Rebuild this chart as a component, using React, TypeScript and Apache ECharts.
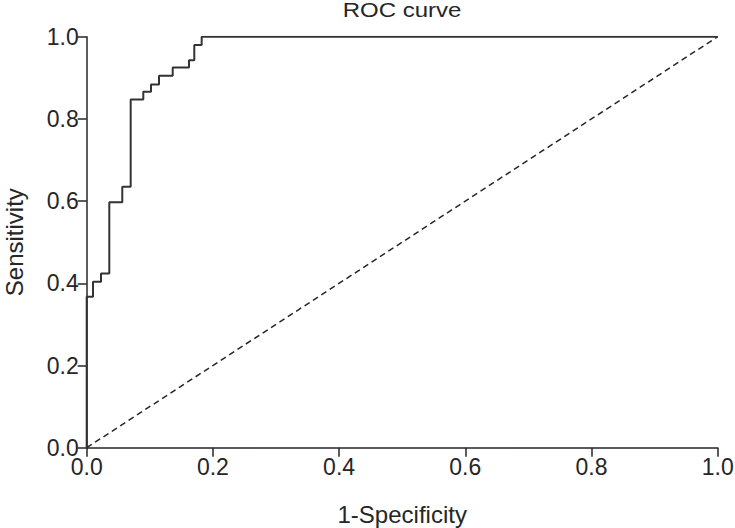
import React, { useEffect, useRef } from "react";
import * as echarts from "echarts";

const fpr = [0, 0, 0.01, 0.01, 0.0227, 0.0227, 0.0358, 0.0358, 0.0564, 0.0564, 0.0697, 0.0697, 0.0897, 0.0897, 0.1019, 0.1019, 0.1146, 0.1146, 0.1363, 0.1363, 0.1621, 0.1621, 0.1705, 0.1705, 0.1822, 0.1822, 1];
const tpr = [0, 0.367, 0.367, 0.404, 0.404, 0.424, 0.424, 0.597, 0.597, 0.635, 0.635, 0.847, 0.847, 0.866, 0.866, 0.884, 0.884, 0.905, 0.905, 0.925, 0.925, 0.943, 0.943, 0.98, 0.98, 1, 1];
const refX = [0, 1];
const refY = [0, 1];
const ticks = [0, 0.2, 0.4, 0.6, 0.8, 1.0];

const FONT = "'Liberation Sans', Arial, Helvetica, sans-serif";
const INK = "#262626";

export default function App() {
  const ref = useRef<HTMLDivElement>(null);
  useEffect(() => {
    if (!ref.current) return;
    const chart = echarts.init(ref.current, null, { renderer: "svg" });
    const axisCommon = {
      type: "value",
      min: ticks[0],
      max: ticks[ticks.length - 1],
      interval: 0.2,
      axisLine: { show: true, onZero: false, lineStyle: { color: INK, width: 1.5 } },
      axisTick: { show: true, inside: false, length: 9, lineStyle: { color: INK, width: 1.5 } },
      axisLabel: {
        color: INK,
        fontSize: 23,
        fontFamily: FONT,
        margin: 8,
        formatter: (v: number) => v.toFixed(1),
      },
      splitLine: { show: false },
      nameLocation: "middle",
      nameTextStyle: { color: INK, fontSize: 24, fontFamily: FONT },
    };
    chart.setOption({
      animation: false,
      backgroundColor: "#ffffff",
      grid: {
        left: 86.7,
        right: 17.3,
        top: 36.7,
        bottom: 80.3,
        containLabel: false,
        outerBoundsMode: "none",
      },
      xAxis: { ...axisCommon, name: "1-Specificity", nameGap: 55 },
      yAxis: { ...axisCommon, name: "Sensitivity", nameGap: 60 },
      graphic: [
        {
          type: "text",
          x: 402,
          y: 10.5,
          scaleX: 1.2,
          style: {
            text: "ROC curve",
            fontSize: 20,
            fontFamily: FONT,
            fill: INK,
            align: "center",
            verticalAlign: "middle",
          },
        },
      ],
      series: [
        {
          type: "line",
          data: refX.map((x, i) => [x, refY[i]]),
          showSymbol: false,
          symbol: "none",
          lineStyle: { color: INK, width: 1.5, type: [6, 4] },
          silent: true,
          z: 1,
        },
        {
          type: "line",
          data: fpr.map((x, i) => [x, tpr[i]]),
          showSymbol: false,
          symbol: "none",
          lineStyle: { color: "#333333", width: 2 },
          silent: true,
          z: 2,
        },
      ],
    });
    return () => chart.dispose();
  }, []);
  return (
    <div
      ref={ref}
      style={{ position: "fixed", left: 0, top: 0, width: 735, height: 528, background: "#fff" }}
    />
  );
}
